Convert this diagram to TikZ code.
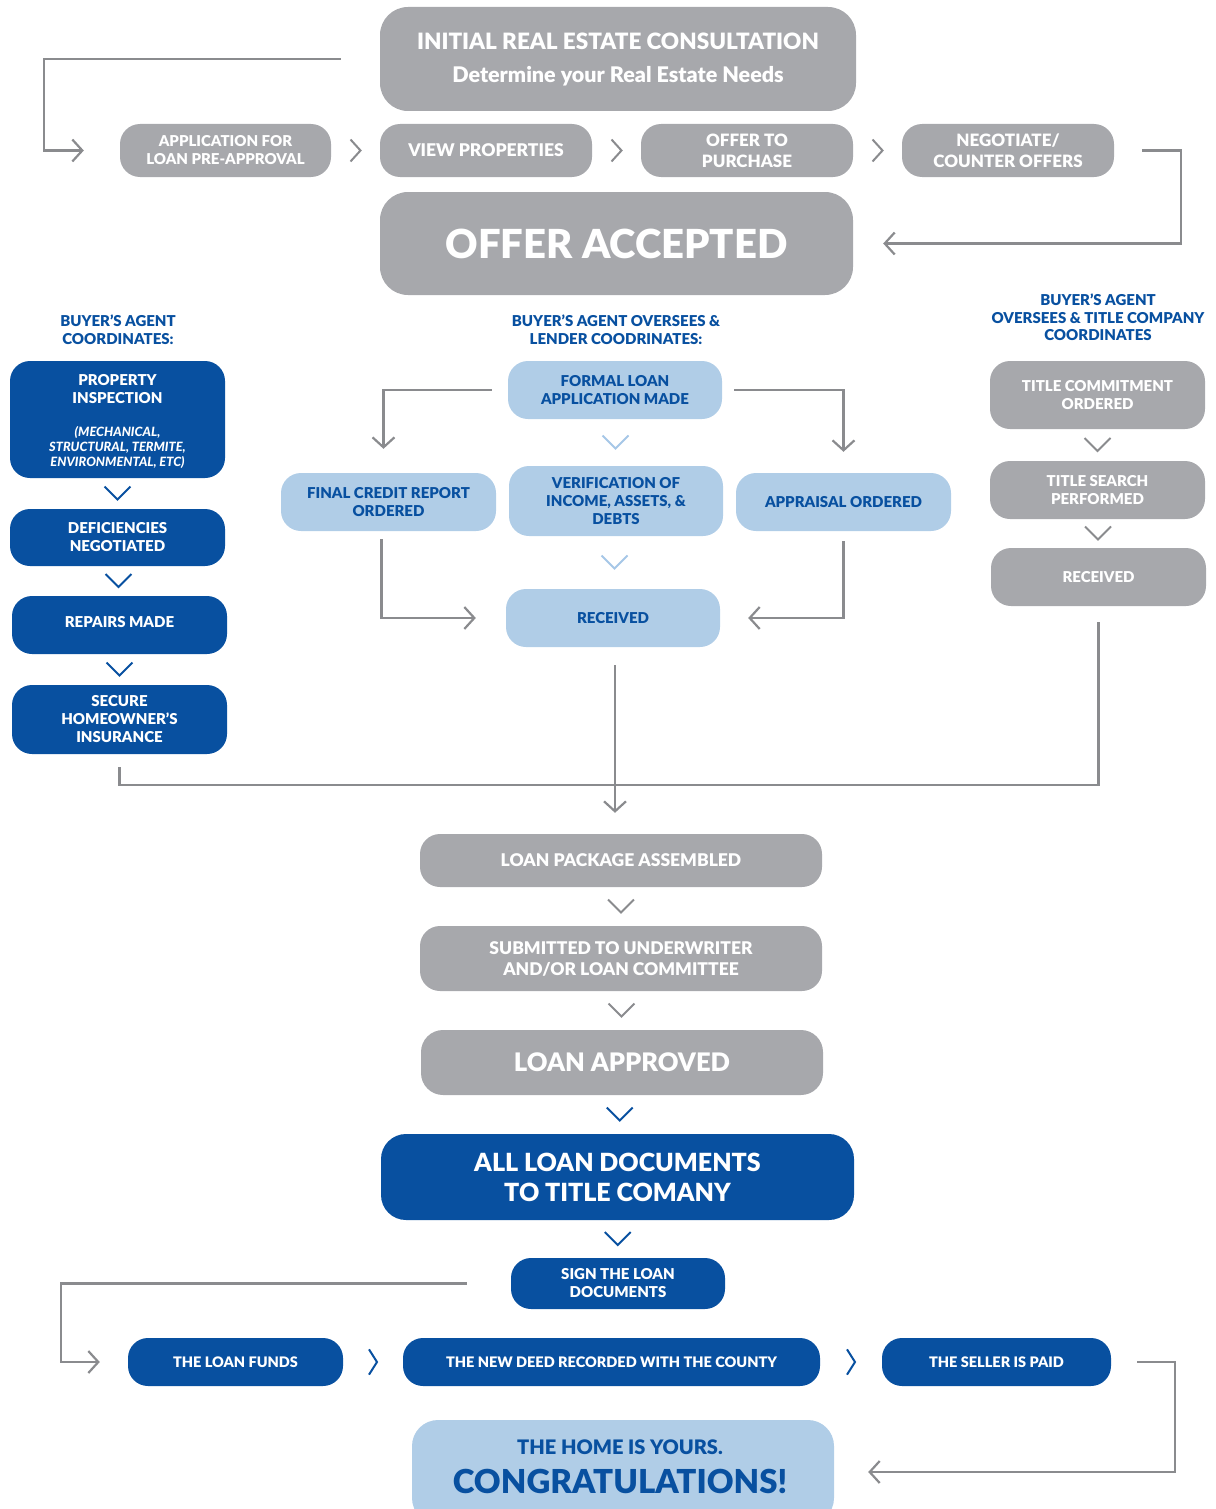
\documentclass[tikz,border=0pt]{standalone}
\usepackage{fontspec}
\IfFontExistsTF{Lato Black}
  {\setmainfont{Lato}[BoldFont={Lato Black}, BoldItalicFont={Lato Black Italic}]}
  {\setmainfont{Lato}[BoldFont={Lato Bold}, BoldItalicFont={Lato Bold Italic}]}
\usetikzlibrary{arrows.meta, calc}

\definecolor{boxgray}{HTML}{A7A8AC}
\definecolor{darkblue}{HTML}{0850A0}
\definecolor{lightblue}{HTML}{B0CDE7}
\definecolor{linegray}{HTML}{8A8B8E}
\definecolor{chevblue}{HTML}{A6C7E7}

\begin{document}
\begin{tikzpicture}[x=1pt, y=-1pt,
  every node/.style={align=center, inner sep=0pt},
  fsz/.style 2 args={font=\bfseries\fontsize{#1}{#2}\selectfont},
  wh/.style 2 args={minimum width=#1, minimum height=#2},
  graybox/.style={fill=boxgray, text=white, rounded corners=20pt},
  bluebox/.style={fill=darkblue, text=white, rounded corners=20pt},
  lightbox/.style={fill=lightblue, text=darkblue, rounded corners=20pt},
  head/.style={text=darkblue, fsz={15}{17.5}},
  link/.style={draw=linegray, line width=2.2pt},
  flow/.style={link, -{Straight Barb[length=10pt, width=22pt]}},
  vchev/.pic={\draw[line width=2pt] (-13,-7) -- (0,6) -- (13,-7);},
  hchev/.pic={\draw[line width=2pt] (-5,-11) -- (5,0) -- (-5,11);},
]
\useasboundingbox (0,0) rectangle (1215,1509);
\clip (0,0) rectangle (1215,1509);

% first steps
\node (init)[graybox, wh={476}{104}, rounded corners=28pt] at (618,59) {};
\node (inittop)[text=white, fsz={22.5}{26}] at (618,41) {INITIAL REAL ESTATE CONSULTATION};
\node (initsub)[text=white, fsz={21.5}{24}] at (618,76) {Determine your Real Estate Needs};

\node (app)[graybox, wh={211}{53}, fsz={15}{18}] at (225.5,150.5) {APPLICATION FOR\\LOAN PRE-APPROVAL};
\node (view)[graybox, wh={212}{53}, fsz={17.5}{21}] at (486,150.5) {VIEW PROPERTIES};
\node (offer)[graybox, wh={212}{53}, fsz={17}{21}] at (747,150.5) {OFFER TO\\PURCHASE};
\node (nego)[graybox, wh={212}{53}, fsz={17}{21}] at (1008,150.5) {NEGOTIATE/\\COUNTER OFFERS};
\node (accepted)[graybox, wh={473}{103}, rounded corners=28pt, fsz={40}{48}] at (616.5,243.5) {OFFER ACCEPTED};

\pic[linegray] at ($(app.east)!0.5!(view.west)$) {hchev};
\pic[linegray] at ($(view.east)!0.5!(offer.west)$) {hchev};
\pic[linegray] at ($(offer.east)!0.5!(nego.west)$) {hchev};

\coordinate (lc) at (44,59);
\draw[flow, shorten <=39pt, shorten >=36pt] (init.west) -- (lc) |- (app.west);
\coordinate (rc) at (1181,150.5);
\draw[flow, shorten <=28pt, shorten >=30pt] (nego.east) -- (rc) |- (accepted.east);

% headings
\node (hleft)[head] at (118,329.5) {BUYER’S AGENT\\COORDINATES:};
\node (hmid)[head] at (616,329.5) {BUYER’S AGENT OVERSEES \&\\LENDER COODRINATES:};
\node (hright)[head] at (1098,317.5) {BUYER’S AGENT\\OVERSEES \& TITLE COMPANY\\COORDINATES};

% buyer's agent column
\node (insp)[bluebox, wh={215}{117}] at (117.5,419.5) {};
\node (insptxt)[text=white, fsz={15}{18}] at (117.5,389) {PROPERTY\\INSPECTION};
\node (inspnote)[text=white, font=\bfseries\itshape\fontsize{12.8}{15}\selectfont] at (117.5,447) {(MECHANICAL,\\STRUCTURAL, TERMITE,\\ENVIRONMENTAL, ETC)};
\node (defic)[bluebox, wh={215}{57}, fsz={15}{18}] at (117.5,537.5) {DEFICIENCIES\\NEGOTIATED};
\node (repairs)[bluebox, wh={215}{58}] at (119.5,625) {};
\node (repairstxt)[text=white, fsz={15}{18}] at (119.5,622) {REPAIRS MADE};
\node (secure)[bluebox, wh={215}{69}, fsz={15}{18}] at (119.5,719.5) {SECURE\\HOMEOWNER’S\\INSURANCE};

\pic[darkblue] at ($(insp.south)!0.5!(defic.north)$) {vchev};
\pic[darkblue] at ($(defic.south)!0.5!(repairs.north)$) {vchev};
\pic[darkblue] at ($(repairs.south)!0.5!(secure.north)$) {vchev};

% lender column
\node (formal)[lightbox, wh={214}{58}, fsz={15}{18}] at (615,390) {FORMAL LOAN\\APPLICATION MADE};
\node (verif)[lightbox, wh={214}{70}, fsz={15}{18}] at (616,501) {VERIFICATION OF\\INCOME, ASSETS, \&\\DEBTS};
\node (recv)[lightbox, wh={214}{58}, fsz={15}{18}] at (613,618) {RECEIVED};
\node (credit)[lightbox, wh={215}{58}, fsz={15}{18}] at (388.5,502) {FINAL CREDIT REPORT\\ORDERED};
\node (appraisal)[lightbox, wh={215}{58}, fsz={15}{18}] at (843.5,502) {APPRAISAL ORDERED};

\pic[chevblue] at ($(formal.south)!0.5!(verif.north)$) {vchev};
\pic[chevblue] at ($(verif.south)!0.5!(recv.north)$) {vchev};

\draw[flow, shorten <=16pt, shorten >=24pt] (formal.west) -| ([xshift=-5pt]credit.north);
\draw[flow, shorten <=12pt, shorten >=21pt] (formal.east) -| (appraisal.north);
\draw[flow, shorten <=8pt, shorten >=30pt] ([xshift=-7pt]credit.south) |- (recv.west);
\draw[flow, shorten <=10pt, shorten >=28pt] (appraisal.south) |- (recv.east);

% title company column
\node (titlecom)[graybox, wh={215}{68}, fsz={15}{18}] at (1097.5,395) {TITLE COMMITMENT\\ORDERED};
\node (titlesearch)[graybox, wh={215}{58}, fsz={15}{18}] at (1097.5,490) {TITLE SEARCH\\PERFORMED};
\node (titlerecv)[graybox, wh={215}{58}, fsz={15}{18}] at (1098.5,577) {RECEIVED};

\pic[linegray] at ($(titlecom.south)!0.5!(titlesearch.north)$) {vchev};
\pic[linegray] at ($(titlesearch.south)!0.5!(titlerecv.north)$) {vchev};

% loan
\node (package)[graybox, wh={402}{53}, fsz={17.5}{20}] at (621,860.5) {LOAN PACKAGE ASSEMBLED};
\node (submitted)[graybox, wh={402}{65}, fsz={17.5}{21}] at (621,958.5) {SUBMITTED TO UNDERWRITER\\AND/OR LOAN COMMITTEE};
\node (approved)[graybox, wh={402}{65}, rounded corners=22pt, fsz={25.5}{30}] at (622,1062.5) {LOAN APPROVED};
\node (alldocs)[bluebox, wh={473}{86}, rounded corners=25pt, fsz={25}{30}] at (617.5,1177) {ALL LOAN DOCUMENTS\\TO TITLE COMANY};
\node (sign)[bluebox, wh={214}{51}, fsz={15}{18}] at (618,1283.5) {SIGN THE LOAN\\DOCUMENTS};

\coordinate (ml) at (119.5,785);
\coordinate (mr) at (1098.5,785);
\draw[link, shorten <=13pt, shorten >=16pt] (secure.south) -- (ml) -- (mr) -- (titlerecv.south);
\draw[flow, shorten <=18pt, shorten >=21pt] ([xshift=2pt]recv.south) -- ([xshift=2pt]recv.south |- package.north);

\pic[linegray] at ($(package.south)!0.5!(submitted.north)$) {vchev};
\pic[linegray] at ($(submitted.south)!0.5!(approved.north)$) {vchev};
\pic[darkblue] at ($(approved.south)!0.5!(alldocs.north)$) {vchev};
\pic[darkblue] at ($(alldocs.south)!0.5!(sign.north)$) {vchev};

% closing
\node (funds)[bluebox, wh={215}{48}, fsz={14.5}{17}] at (235.5,1362) {THE LOAN FUNDS};
\node (deed)[bluebox, wh={417}{48}, fsz={14.5}{17}] at (611.5,1362) {THE NEW DEED RECORDED WITH THE COUNTY};
\node (seller)[bluebox, wh={229}{48}, fsz={14.5}{17}] at (996.5,1362) {THE SELLER IS PAID};

\pic[darkblue, x=0.8pt, y=-1.15pt] at ($(funds.east)!0.5!(deed.west)$) {hchev};
\pic[darkblue, x=0.8pt, y=-1.15pt] at ($(deed.east)!0.5!(seller.west)$) {hchev};

\node (home)[lightbox, wh={422}{104}, rounded corners=26pt] at (623,1472) {};
\node (hometop)[text=darkblue, fsz={20}{24}] at (620,1447) {THE HOME IS YOURS.};
\node (homebig)[text=darkblue, fsz={33}{40}] at (620,1481) {CONGRATULATIONS!};

\coordinate (blc) at (61,1283.5);
\draw[flow, shorten <=44pt, shorten >=28pt] (sign.west) -- (blc) |- (funds.west);
\coordinate (brc) at (1175,1362);
\draw[flow, shorten <=26pt, shorten >=34pt] (seller.east) -- (brc) |- (home.east);
\end{tikzpicture}
\end{document}
